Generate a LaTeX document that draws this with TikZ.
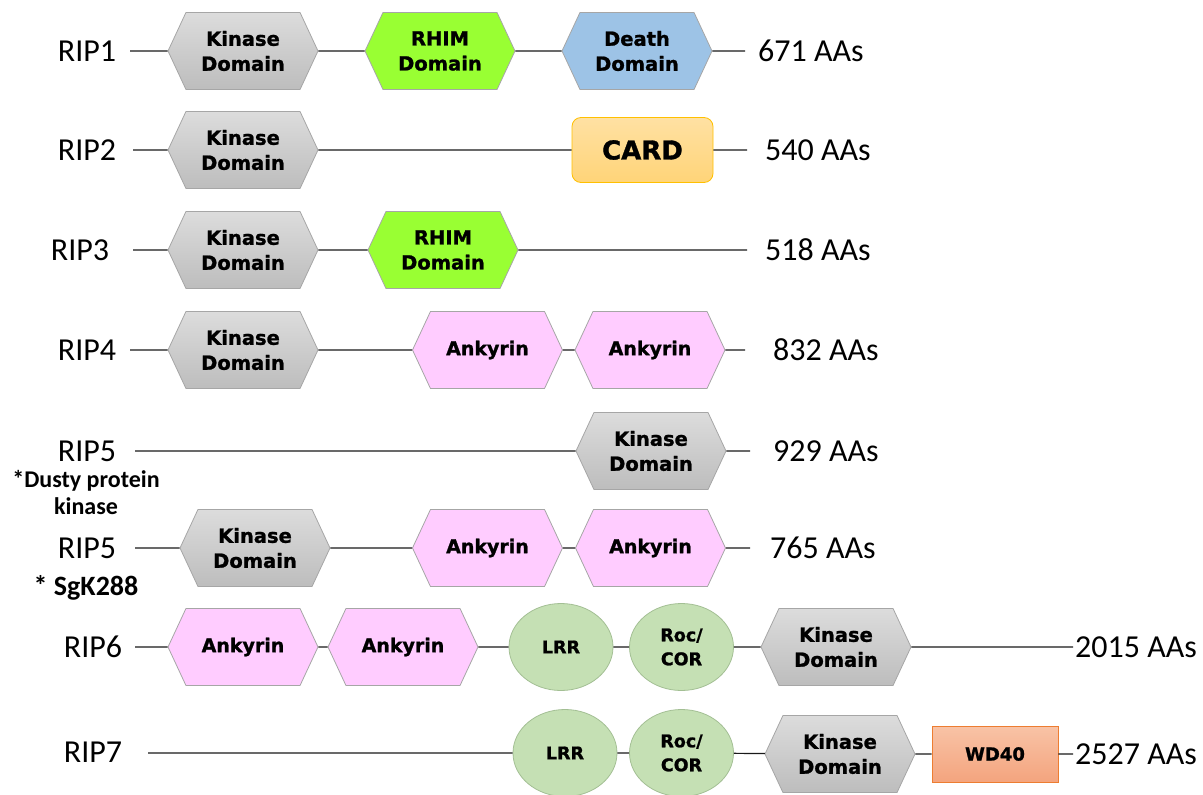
\documentclass[tikz,border=0pt]{standalone}
\usepackage{fontspec}
\setmainfont{Carlito}
\newfontfamily\domfont{DejaVu Sans}[BoldFeatures={FakeBold=1.2}]
\usepackage{tikz}
\usetikzlibrary{shapes.symbols, shapes.geometric, positioning}

\definecolor{kinasetop}{HTML}{DCDCDC}
\definecolor{kinasebot}{HTML}{BDBDBD}
\definecolor{hexline}{HTML}{A6A6A6}
\definecolor{rhimgreen}{HTML}{99FF33}
\definecolor{deathblue}{HTML}{9DC3E6}
\definecolor{ankpink}{HTML}{FFCCFF}
\definecolor{lrrgreen}{HTML}{C5E0B4}
\definecolor{lrrline}{HTML}{A3BF94}
\definecolor{cardtop}{HTML}{FFE1A3}
\definecolor{cardbot}{HTML}{FFD478}
\definecolor{cardline}{HTML}{FFC000}
\definecolor{wdtop}{HTML}{F8C3A6}
\definecolor{wdbot}{HTML}{F4A47E}
\definecolor{wdline}{HTML}{ED7D31}

\tikzset{
  domainhex/.style={signal, signal to=east and west, signal pointer angle=130,
    minimum width=150pt, minimum height=77pt, inner sep=0pt, draw=hexline,
    line width=0.8pt, align=center,
    font=\domfont\bfseries\fontsize{19.5}{25}\selectfont},
  kinase/.style={domainhex, top color=kinasetop, bottom color=kinasebot},
  rhim/.style={domainhex, fill=rhimgreen},
  death/.style={domainhex, fill=deathblue},
  ankyrin/.style={domainhex, fill=ankpink, font=\domfont\bfseries\fontsize{19}{25}\selectfont},
  lrr/.style={ellipse, draw=lrrline, fill=lrrgreen, line width=0.8pt,
    minimum width=104pt, minimum height=87pt, inner sep=0pt, align=center,
    font=\domfont\bfseries\fontsize{17.5}{24}\selectfont},
  card/.style={rectangle, rounded corners=9pt, draw=cardline, line width=0.8pt,
    top color=cardtop, bottom color=cardbot, minimum width=141pt,
    minimum height=65pt, font=\domfont\bfseries\fontsize{26}{30}\selectfont},
  wdbox/.style={rectangle, draw=wdline, line width=0.8pt, top color=wdtop,
    bottom color=wdbot, minimum width=126pt, minimum height=56pt,
    font=\domfont\bfseries\fontsize{18}{22}\selectfont},
  rip/.style={font=\fontsize{32}{38}\selectfont, inner sep=0pt},
  size/.style={font=\fontsize{32}{38}\selectfont, anchor=west, inner sep=0pt},
  note/.style={font=\bfseries\fontsize{24}{27}\selectfont, align=center, inner sep=0pt},
  chain/.style={line width=1.2pt, black!90}
}

\begin{document}
\begin{tikzpicture}[x=1pt, y=-1pt]
  \useasboundingbox (0,0) rectangle (1203,795);

  % RIP1
  \node[rip] (rip1) at (87,51) {RIP1};
  \coordinate (s1) at (130,51);
  \node[kinase] (k1) at (243,51) {Kinase\\Domain};
  \node[rhim] (r1) at (440,51) {RHIM\\Domain};
  \node[death] (d1) at (637,51) {Death\\Domain};
  \coordinate (e1) at (745,51);
  \node[size] (aa1) at (758,51) {671 AAs};
  \draw[chain] (s1) -- (k1) -- (r1) -- (d1) -- (e1);

  % RIP2
  \node[rip] (rip2) at (87,150) {RIP2};
  \coordinate (s2) at (133,150);
  \node[kinase] (k2) at (243,150) {Kinase\\Domain};
  \node[card] (c2) at (642.5,150) {CARD};
  \coordinate (e2) at (747,150);
  \node[size] (aa2) at (765,150) {540 AAs};
  \draw[chain] (s2) -- (k2) -- (c2) -- (e2);

  % RIP3
  \node[rip] (rip3) at (80,250) {RIP3};
  \coordinate (s3) at (133,250);
  \node[kinase] (k3) at (243,250) {Kinase\\Domain};
  \node[rhim] (r3) at (443,250) {RHIM\\Domain};
  \coordinate (e3) at (747,250);
  \node[size] (aa3) at (765,250) {518 AAs};
  \draw[chain] (s3) -- (k3) -- (r3) -- (e3);

  % RIP4
  \node[rip] (rip4) at (87,350) {RIP4};
  \coordinate (s4) at (130,350);
  \node[kinase] (k4) at (243,350) {Kinase\\Domain};
  \node[ankyrin] (a4a) at (487.5,350) {Ankyrin};
  \node[ankyrin] (a4b) at (650,350) {Ankyrin};
  \coordinate (e4) at (745,350);
  \node[size] (aa4) at (773,350) {832 AAs};
  \draw[chain] (s4) -- (k4) -- (a4a) -- (a4b) -- (e4);

  % RIP5 (Dusty protein kinase)
  \node[rip] (rip5) at (87,451) {RIP5};
  \node[note] (dusty) at (86,492) {*Dusty protein\\kinase};
  \coordinate (s5) at (135,451);
  \node[kinase] (k5) at (651,451) {Kinase\\Domain};
  \coordinate (e5) at (750,451);
  \node[size] (aa5) at (773,451) {929 AAs};
  \draw[chain] (s5) -- (k5) -- (e5);

  % RIP5 (SgK288)
  \node[rip] (rip5b) at (87,548) {RIP5};
  \node[note, font=\bfseries\fontsize{28}{30}\selectfont] (sgk) at (86,588) {* SgK288};
  \coordinate (s6) at (135,548);
  \node[kinase] (k6) at (255,548) {Kinase\\Domain};
  \node[ankyrin] (a6a) at (487.5,548) {Ankyrin};
  \node[ankyrin] (a6b) at (650.5,548) {Ankyrin};
  \coordinate (e6) at (750,548);
  \node[size] (aa6) at (770,548) {765 AAs};
  \draw[chain] (s6) -- (k6) -- (a6a) -- (a6b) -- (e6);

  % RIP6
  \node[rip] (rip6) at (93,647) {RIP6};
  \coordinate (s7) at (135,647);
  \node[ankyrin] (a7a) at (243,647) {Ankyrin};
  \node[ankyrin] (a7b) at (403,647) {Ankyrin};
  \node[lrr] (l7) at (561,647) {LRR};
  \node[lrr] (rc7) at (681.5,647) {Roc/\\COR};
  \node[kinase] (k7) at (836,647) {Kinase\\Domain};
  \coordinate (e7) at (1073,647);
  \node[size] (aa7) at (1075,647) {2015 AAs};
  \draw[chain] (s7) -- (a7a) -- (a7b) -- (l7) -- (rc7) -- (k7) -- (e7);

  % RIP7
  \node[rip] (rip7) at (93,752) {RIP7};
  \coordinate (s8) at (148,753);
  \node[lrr] (l8) at (565,753) {LRR};
  \node[lrr] (rc8) at (681.5,753) {Roc/\\COR};
  \node[kinase] (k8) at (840,754) {Kinase\\Domain};
  \node[wdbox] (w8) at (995,754) {WD40};
  \coordinate (e8) at (1073,754);
  \node[size] (aa8) at (1075,754) {2527 AAs};
  \draw[chain] (s8) -- (l8) -- (rc8) -- (k8) -- (w8) -- (e8);
\end{tikzpicture}
\end{document}
